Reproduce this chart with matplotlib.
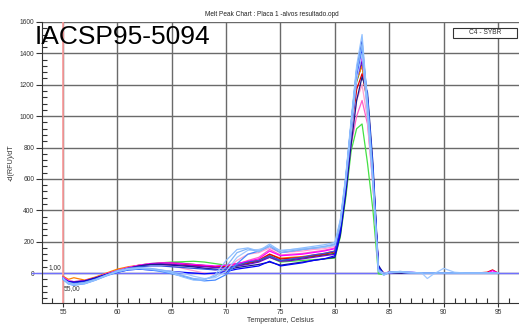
import matplotlib
matplotlib.use("Agg")
import matplotlib.pyplot as plt
from matplotlib.ticker import MultipleLocator
from matplotlib.patches import Rectangle

plt.rcParams['font.family'] = ['Liberation Sans', 'DejaVu Sans']

temps = [55, 55.5, 56, 57, 58, 59, 60, 61, 62, 63, 64, 65, 66, 67, 68, 69, 70, 71, 72, 73,
         74, 75, 76, 77, 78, 79, 80, 80.5, 81, 81.5, 82, 82.5, 83, 83.5, 84, 84.5, 85, 86,
         87, 88, 88.5, 89, 90, 91, 92, 93, 94, 94.5, 95]

light_blue_a = [-30, -70, -75, -68, -45, -15, 10, 25, 30, 25, 15, 0, -25, -45, -45, -10, 80, 150, 160, 140,
                185, 140, 150, 160, 170, 180, 195, 340, 620, 980, 1320, 1520, 1080, 600, 20, -15, 5, 10,
                5, 0, 0, 0, 0, 0, 0, 0, 0, 0, 0]
light_blue_b = [-35, -65, -72, -60, -40, -12, 15, 30, 35, 30, 20, 5, -15, -35, -40, -20, 40, 130, 155, 135,
                175, 130, 140, 150, 160, 170, 185, 320, 600, 950, 1280, 1460, 1050, 580, 10, -10, 5, 5,
                0, 0, 0, 0, 0, 0, 0, 0, 0, 0, 0]
light_blue_c = [-40, -60, -70, -62, -42, -15, 10, 25, 30, 28, 20, 10, 0, -20, -35, -30, 10, 100, 145, 150,
                170, 145, 150, 155, 160, 165, 175, 310, 570, 900, 1230, 1400, 1000, 560, 15, 0, 5, 5,
                0, 0, -35, -10, 30, 5, 0, 0, 0, 0, 0]
blue = [-40, -55, -60, -55, -35, -10, 5, 20, 25, 20, 15, 10, 5, 0, -5, 0, 10, 25, 35, 45,
        75, 45, 55, 65, 80, 90, 110, 260, 540, 900, 1250, 1420, 1100, 650, 40, -10, 5, 5,
        0, 0, 0, 0, 0, 0, 0, 0, 0, 0, 0]
royal_blue = [-30, -60, -65, -58, -38, -12, 8, 30, 40, 45, 45, 40, 35, 30, 25, 20, 25, 50, 70, 80,
              110, 80, 90, 100, 115, 125, 140, 300, 600, 960, 1300, 1480, 1080, 620, 25, -5, 5, 5,
              0, 0, 0, 0, 0, 0, 0, 0, 0, 0, 0]
navy = [-35, -55, -58, -50, -30, -8, 10, 30, 45, 55, 55, 50, 45, 40, 30, 25, 20, 35, 45, 55,
        70, 50, 60, 70, 80, 90, 100, 240, 500, 820, 1100, 1250, 1150, 700, 50, -5, 5, 0,
        0, 0, 0, 0, 0, 0, 0, 0, 0, 0, 0]
magenta = [-25, -50, -55, -48, -30, -5, 15, 35, 50, 60, 65, 65, 60, 55, 50, 45, 50, 60, 75, 90,
           140, 110, 115, 120, 130, 140, 155, 300, 580, 920, 1250, 1380, 1050, 600, 30, 0, 5, 5,
           5, 0, 0, 0, 0, 0, 0, 0, 0, 15, 0]
pink = [-30, -55, -60, -52, -32, -8, 12, 30, 45, 55, 60, 58, 50, 40, 30, 20, 30, 55, 80, 100,
        150, 115, 120, 125, 135, 145, 160, 290, 530, 820, 1000, 1100, 950, 560, 25, -5, 5, 5,
        0, 0, 0, 0, 0, 0, 0, 0, 0, 0, 0]
light_pink = [-30, -50, -55, -50, -30, -5, 15, 35, 50, 60, 55, 45, 30, 15, 0, -10, 20, 80, 120, 130,
              160, 130, 135, 140, 150, 155, 170, 310, 570, 880, 1100, 1200, 980, 560, 20, 0, 5, 5,
              0, 0, 0, 0, 0, 0, 0, 0, 0, 0, 0]
green = [-25, -50, -55, -48, -28, -5, 15, 35, 50, 60, 65, 70, 72, 75, 70, 60, 50, 60, 70, 80,
         100, 70, 75, 80, 85, 90, 95, 230, 480, 780, 920, 950, 700, 400, -5, -10, 5, 5,
         0, 0, 0, 0, 0, 0, 0, 0, 0, 0, 0]
dark_green = [-30, -55, -58, -50, -30, -5, 15, 35, 48, 58, 62, 65, 62, 55, 48, 40, 35, 45, 60, 75,
              110, 80, 85, 95, 105, 115, 125, 280, 560, 900, 1220, 1330, 1080, 620, 30, -5, 5, 0,
              0, 0, 0, 0, 0, 0, 0, 0, 0, 0, 0]
orange = [-20, -40, -30, -45, -25, 0, 25, 40, 50, 58, 62, 60, 55, 50, 45, 40, 45, 60, 70, 85,
          120, 95, 100, 105, 115, 125, 140, 290, 570, 920, 1230, 1320, 1060, 600, 25, 0, 5, 5,
          0, 0, 0, 0, 0, 0, 0, 0, 0, 0, 0]
red = [-30, -55, -58, -50, -30, -5, 15, 35, 48, 55, 58, 58, 55, 50, 45, 40, 40, 55, 65, 80,
       120, 90, 95, 100, 110, 120, 135, 280, 550, 880, 1170, 1270, 1100, 640, 35, 0, 5, 5,
       0, 0, 0, 0, 0, 0, 0, 0, 5, 20, 0]
purple = [-35, -60, -62, -55, -35, -10, 10, 30, 45, 55, 58, 55, 50, 45, 40, 35, 35, 45, 55, 70,
          100, 75, 80, 90, 100, 110, 120, 270, 560, 910, 1240, 1350, 1120, 660, 40, -5, 5, 0,
          0, 0, 0, 0, 0, 0, 0, 0, 0, 0, 0]
mid_blue = [-40, -70, -78, -68, -45, -18, 5, 20, 25, 20, 10, -5, -20, -40, -50, -45, -10, 60, 120, 140,
            170, 130, 140, 150, 158, 165, 180, 330, 610, 960, 1290, 1440, 1120, 660, 30, -10, 5, 10,
            5, 0, 0, 0, 0, 0, 0, 0, 0, 0, 0]

series = [
    (green, '#44e044'), (dark_green, '#009000'), (orange, '#ff8000'), (red, '#e00000'),
    (pink, '#ff60c8'), (light_pink, '#ffa0d0'), (magenta, '#ff00ff'), (purple, '#7000d0'),
    (navy, '#1a1a8c'), (blue, '#0000ff'), (royal_blue, '#3050e0'), (mid_blue, '#4488ff'),
    (light_blue_c, '#a0c8ff'), (light_blue_b, '#80b4f8'), (light_blue_a, '#90c0ff'),
]

fig = plt.figure(figsize=(5.19, 3.26), dpi=100)
ax = fig.add_axes([42/519, 1 - 303/326, 1 - 42/519, (303 - 22)/326])
ax.set_xlim(53.07, 96.93)
ax.set_ylim(-191, 1600)
ax.set_axisbelow(True)

ax.xaxis.set_minor_locator(MultipleLocator(1))
ax.yaxis.set_minor_locator(MultipleLocator(40))
ax.set_yticks([0, 200, 400, 600, 800, 1000, 1200, 1400, 1600])
ax.set_xticks([55, 60, 65, 70, 75, 80, 85, 90, 95])

ax.grid(True, which='major', color='#6a6a6a', lw=1.0)
for s in ['top', 'right']:
    ax.spines[s].set_visible(False)
ax.spines['left'].set_color('#333333')
ax.spines['bottom'].set_color('#333333')

ax.tick_params(axis='y', which='major', labelsize=4.8, labelcolor='#333333', length=4,
               direction='out', width=0.8, color='#333333', pad=1.5)
ax.tick_params(axis='x', which='major', labelsize=4.8, labelcolor='#333333', length=3,
               direction='out', width=0.8, color='#333333', pad=1)
ax.tick_params(axis='both', which='minor', length=3.5, direction='in', width=0.8, color='#333333')

ax.axhline(0, xmin=-0.022, xmax=1, color='#7070ff', lw=1.0, zorder=1.5, clip_on=False)
ax.axvline(55, color='#ff9c9c', lw=1.2, zorder=1.5)

for vals, col in series:
    ax.plot(temps, vals, color=col, lw=0.9, zorder=2)

ax.set_ylabel('-d(RFU)/dT', fontsize=5.2, color='#333333', labelpad=4)
fig.text(280/519, 1 - 321/326, 'Temperature, Celsius', fontsize=5.0, ha='center', va='center',
         color='#333333')

fig.text(272/519, 1 - 14/326, 'Melt Peak Chart : Placa 1 -alvos resultado.opd',
         fontsize=4.7, ha='center', va='center', color='#222222')
fig.text(35/519, 1 - 37/326, 'IACSP95-5094', fontsize=19, ha='left', va='center', color='black')

fig.text(49/519, 1 - 268/326, '1,00', fontsize=4.8, ha='left', va='center', color='#333333')
fig.text(64/519, 1 - 289/326, '55,00', fontsize=4.8, ha='left', va='center', color='#333333')

fig.patches.append(Rectangle((453/519, 1 - 38/326), 64/519, 10/326, transform=fig.transFigure,
                             facecolor='white', edgecolor='#333333', lw=0.8, zorder=5))
fig.text(485/519, 1 - 33/326, 'C4 - SYBR', fontsize=4.8, ha='center', va='center',
         color='#333333', zorder=6)

fig.savefig('out.png', dpi=100)
